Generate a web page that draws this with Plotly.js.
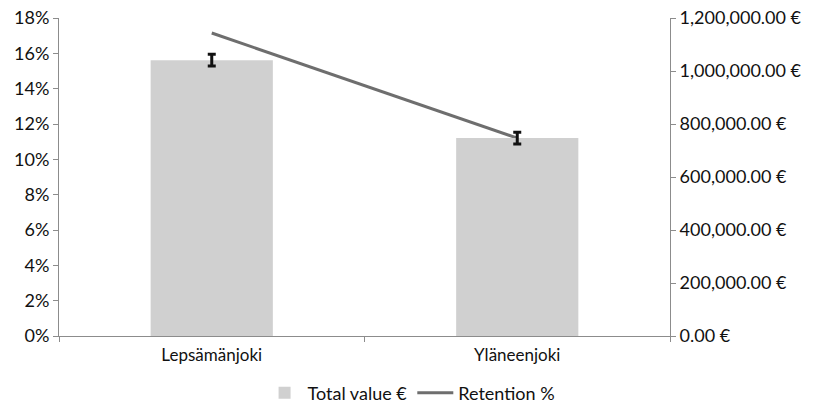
<!DOCTYPE html>
<html>
<head>
<meta charset="utf-8">
<script src="https://cdn.plot.ly/plotly-3.0.1.min.js"></script>
<style>html,body{margin:0;padding:0;background:#fff;}#chart{width:814px;height:404px;}</style>
</head>
<body>
<div id="chart"></div>
<script>
const categories = ["Lepsämänjoki", "Yläneenjoki"];
const totalValue = [1041000, 747000];
const totalValueError = [22000, 22000];
const retention = [0.1715, 0.112];
const leftTicks = [0, 0.02, 0.04, 0.06, 0.08, 0.1, 0.12, 0.14, 0.16, 0.18];
const leftTickText = ["0%", "2%", "4%", "6%", "8%", "10%", "12%", "14%", "16%", "18%"];
const rightTicks = [0, 200000, 400000, 600000, 800000, 1000000, 1200000];
const rightTickText = ["0.00 €", "200,000.00 €", "400,000.00 €", "600,000.00 €", "800,000.00 €", "1,000,000.00 €", "1,200,000.00 €"];

const font = "Lato, 'Open Sans', sans-serif";

const traces = [
  {
    type: "bar",
    name: "Total value €",
    x: categories,
    y: totalValue,
    yaxis: "y2",
    marker: {color: "#d0d0d0"},
    error_y: {type: "data", array: totalValueError, visible: true, color: "#111111", thickness: 3, width: 4},
    hoverinfo: "x+y"
  },
  {
    type: "scatter",
    mode: "lines",
    name: "Retention %",
    x: categories,
    y: retention,
    yaxis: "y",
    line: {color: "#6e6e6e", width: 3}
  }
];

const layout = {
  width: 814,
  height: 404,
  margin: {l: 59, r: 144, t: 18, b: 68, autoexpand: false},
  paper_bgcolor: "#ffffff",
  plot_bgcolor: "#ffffff",
  font: {family: font, size: 18, color: "#111111"},
  bargap: 0.6,
  showlegend: true,
  legend: {orientation: "h", xref: "container", yref: "container", x: 0.505, xanchor: "center", y: 0.027, yanchor: "middle", font: {size: 18}, traceorder: "normal", itemwidth: 36},
  xaxis: {
    type: "category",
    automargin: false,
    showline: true, linecolor: "#8c8c8c", linewidth: 1,
    ticks: "outside", tickson: "boundaries", ticklen: 5, tickcolor: "#8c8c8c",
    ticklabelstandoff: 4,
    showgrid: false, zeroline: false,
    tickfont: {size: 17}
  },
  yaxis: {
    range: [0, 0.18],
    automargin: false,
    tickvals: leftTicks,
    ticktext: leftTickText,
    showline: true, linecolor: "#8c8c8c", linewidth: 1,
    ticks: "outside", ticklen: 5, tickcolor: "#8c8c8c",
    showgrid: false, zeroline: false,
    tickfont: {size: 18}
  },
  yaxis2: {
    overlaying: "y",
    side: "right",
    automargin: false,
    range: [0, 1200000],
    tickvals: rightTicks,
    ticktext: rightTickText,
    showline: true, linecolor: "#8c8c8c", linewidth: 1,
    ticks: "outside", ticklen: 5, tickcolor: "#8c8c8c",
    showgrid: false, zeroline: false,
    tickfont: {size: 18}
  }
};

Plotly.newPlot("chart", traces, layout, {displayModeBar: false, staticPlot: true});
</script>
</body>
</html>
